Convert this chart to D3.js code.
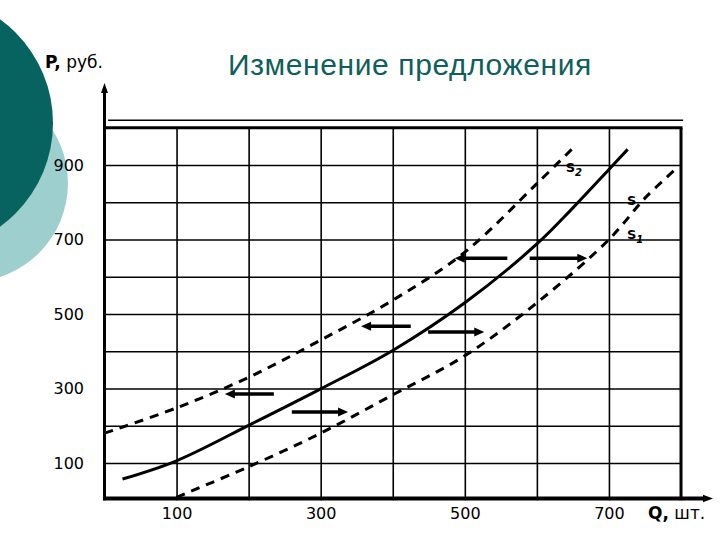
<!DOCTYPE html>
<html><head><meta charset="utf-8">
<script src="https://cdn.jsdelivr.net/npm/d3@7"></script>
<style>html,body{margin:0;padding:0;background:#fff;} svg{display:block;}</style>
</head><body><svg id="c" width="720" height="540"></svg>
<script>
// ---- data ----
const title = "Изменение предложения";
const yAxisLabel = ["P,", " руб."];
const xAxisLabel = ["Q,", " шт."];
const gridQ = [100, 200, 300, 400, 500, 600, 700];
const gridP = [100, 200, 300, 400, 500, 600, 700, 800, 900];
const xTickLabels = [100, 300, 500, 700];
const yTickLabels = [900, 700, 500, 300, 100];

// supply S (solid)
const sQ = [25, 100, 200, 300, 400, 500, 600, 650, 700, 726];
const sP = [57, 106, 201, 299, 402, 530, 688, 785, 888, 942];
// supply S2 (dashed, shifted left)
const s2Q = [0, 100, 200, 300, 400, 500, 600, 655];
const s2P = [180, 248, 330, 430, 537, 666, 850, 955];
// supply S1 (dashed, shifted right)
const s1Q = [100, 200, 300, 400, 500, 600, 700, 750, 793];
const s1P = [8, 90, 180, 283, 388, 530, 700, 811, 890];

// shift arrows
const arrowP     = [285, 467, 650, 237, 452, 650];
const arrowFromQ = [235, 425, 559, 260, 449, 590];
const arrowToQ   = [167, 356, 486, 338, 527, 670];

// curve labels
const curveNames = ["S", "S", "S"];
const curveSubs  = ["2", "", "1"];
const curveLabelQ = [640, 725, 725];
const curveLabelP = [880, 793, 702];

// ---- drawing ----
const svg = d3.select("#c");

svg.append("circle").attr("cx", -31).attr("cy", 183).attr("r", 99).attr("fill", "#9ecfcf");
svg.append("circle").attr("cx", -75).attr("cy", 123).attr("r", 128).attr("fill", "#06635f");

const x = d3.scaleLinear().domain([0, 800]).range([104.5, 681]);
const y = d3.scaleLinear().domain([0, 1000]).range([500.25, 127.75]);

// vertical grid
svg.append("g").attr("transform", `translate(0,${y(1000)})`)
  .call(d3.axisBottom(x).tickValues(gridQ).tickSize(y(0) - y(1000)).tickFormat(""))
  .call(g => g.select(".domain").remove())
  .selectAll("line").attr("stroke", "#000").attr("stroke-width", 1.6);
// horizontal grid
svg.append("g").attr("transform", `translate(${x(0)},0)`)
  .call(d3.axisRight(y).tickValues(gridP).tickSize(x(800) - x(0)).tickFormat(""))
  .call(g => g.select(".domain").remove())
  .selectAll("line").attr("stroke", "#000").attr("stroke-width", 1.6);

// frame
svg.append("line").attr("x1", x(0)).attr("x2", x(800) + 1.5).attr("y1", y(1000)).attr("y2", y(1000))
  .attr("stroke", "#000").attr("stroke-width", 3);
svg.append("line").attr("x1", x(800)).attr("x2", x(800)).attr("y1", y(1000)).attr("y2", y(0))
  .attr("stroke", "#000").attr("stroke-width", 3);
svg.append("line").attr("x1", x(5)).attr("x2", x(803)).attr("y1", y(1020)).attr("y2", y(1020))
  .attr("stroke", "#000").attr("stroke-width", 1.5);

// axes with arrows
svg.append("line").attr("x1", x(0)).attr("x2", x(0)).attr("y1", y(0)).attr("y2", 92)
  .attr("stroke", "#000").attr("stroke-width", 3);
svg.append("path").attr("d", `M${x(0)-3.5},93 L${x(0)},83 L${x(0)+3.5},93 Z`).attr("fill", "#000");
svg.append("line").attr("x1", x(0) - 1.5).attr("x2", 704).attr("y1", y(0) - 1.8).attr("y2", y(0) - 1.8)
  .attr("stroke", "#000").attr("stroke-width", 4);
svg.append("path").attr("d", `M703,${y(0)-5.5} L713,${y(0)-1.8} L703,${y(0)+2} Z`).attr("fill", "#000");

// tick labels
const fontNum = "'DejaVu Sans', Verdana, sans-serif";
svg.append("g").attr("transform", `translate(84,0)`)
  .call(d3.axisLeft(y).tickValues(yTickLabels).tickSize(0).tickPadding(0))
  .call(g => g.select(".domain").remove())
  .selectAll("text").attr("font-family", fontNum).attr("font-size", 16).attr("fill", "#000");
svg.append("g").attr("transform", `translate(0,${y(0)})`)
  .call(d3.axisBottom(x).tickValues(xTickLabels).tickSize(0).tickPadding(7))
  .call(g => g.select(".domain").remove())
  .selectAll("text").attr("font-family", fontNum).attr("font-size", 16).attr("fill", "#000");

// axis titles
const pl = svg.append("text").attr("x", 45).attr("y", 68).attr("font-family", fontNum).attr("font-size", 17).attr("fill", "#000");
pl.append("tspan").attr("font-weight", "bold").text(yAxisLabel[0]);
pl.append("tspan").text(yAxisLabel[1]);
const ql = svg.append("text").attr("x", 648).attr("y", 519).attr("font-family", fontNum).attr("font-size", 17).attr("fill", "#000");
ql.append("tspan").attr("font-weight", "bold").text(xAxisLabel[0]);
ql.append("tspan").text(xAxisLabel[1]);

// title
svg.append("text").attr("x", 410).attr("y", 75).attr("text-anchor", "middle")
  .attr("font-family", "'Liberation Sans', Arial, sans-serif").attr("font-size", 30)
  .attr("letter-spacing", 0.6)
  .attr("fill", "#0f5f5c").text(title);

// curves
const line = d3.line().x(d => x(d[0])).y(d => y(d[1])).curve(d3.curveCatmullRom.alpha(0.5));
const series = [
  {q: s2Q, p: s2P, dash: "9,7"},
  {q: s1Q, p: s1P, dash: "9,7"},
  {q: sQ, p: sP, dash: null}
];
series.forEach(s => {
  svg.append("path").attr("d", line(s.q.map((q, i) => [q, s.p[i]])))
    .attr("fill", "none").attr("stroke", "#000").attr("stroke-width", 3)
    .attr("stroke-dasharray", s.dash);
});

// arrows
arrowP.forEach((p, i) => {
  const x1 = x(arrowFromQ[i]), x2 = x(arrowToQ[i]), yy = y(p);
  const dir = Math.sign(x2 - x1);
  svg.append("line").attr("x1", x1).attr("x2", x2 - dir * 8).attr("y1", yy).attr("y2", yy)
    .attr("stroke", "#000").attr("stroke-width", 3.5);
  svg.append("path").attr("d", `M${x2},${yy} L${x2 - dir * 10},${yy - 4.5} L${x2 - dir * 10},${yy + 4.5} Z`)
    .attr("fill", "#000");
});

// curve labels
curveNames.forEach((n, i) => {
  const t = svg.append("text").attr("x", x(curveLabelQ[i])).attr("y", y(curveLabelP[i]))
    .attr("font-family", fontNum).attr("font-size", 13).attr("font-weight", "bold").attr("fill", "#000");
  t.append("tspan").text(n);
  if (curveSubs[i]) t.append("tspan").attr("font-size", 10).attr("dy", 4).attr("font-style", "italic").text(curveSubs[i]);
});
</script>
</body></html>
